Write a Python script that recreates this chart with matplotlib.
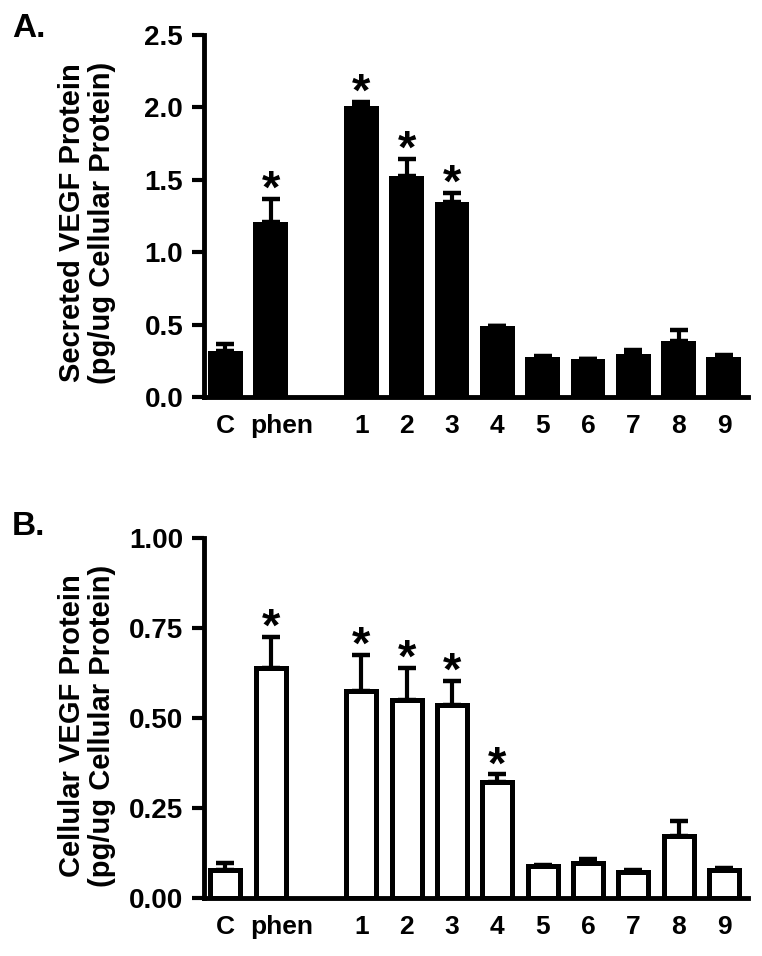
import matplotlib
matplotlib.use("Agg")
import matplotlib.pyplot as plt
from matplotlib.transforms import ScaledTranslation
import numpy as np

plt.rcParams['font.family'] = ['Liberation Sans', 'DejaVu Sans']
plt.rcParams['font.weight'] = 'bold'

# groups (gap after phen)
labels = ['C', 'phen', '1', '2', '3', '4', '5', '6', '7', '8', '9']
pos = [0, 1, 3, 4, 5, 6, 7, 8, 9, 10, 11]

# A: secreted VEGF
secreted = [0.318, 1.207, 2.013, 1.525, 1.35, 0.49, 0.279, 0.263, 0.295, 0.389, 0.274]
secreted_err = [0.05, 0.162, 0.025, 0.12, 0.06, 0.0, 0.004, 0.002, 0.032, 0.072, 0.018]
secreted_sig = [False, True, True, True, True, False, False, False, False, False, False]

# B: cellular VEGF
cellular = [0.078, 0.638, 0.575, 0.55, 0.536, 0.323, 0.088, 0.097, 0.072, 0.172, 0.078]
cellular_err = [0.02, 0.087, 0.10, 0.09, 0.068, 0.021, 0.003, 0.012, 0.005, 0.042, 0.004]
cellular_sig = [False, True, True, True, True, True, False, False, False, False, False]

fig = plt.figure(figsize=(7.62, 9.56), dpi=100)
axA = fig.add_axes([0.2677, 0.5847, 0.7139, 0.3787])
axB = fig.add_axes([0.2677, 0.0607, 0.7139, 0.3765])


def style(ax, ylim, yticks, fmt):
    ax.set_xlim(-0.47, 11.53)
    ax.set_ylim(*ylim)
    ax.set_yticks(yticks)
    ax.set_yticklabels([fmt.format(v) for v in yticks])
    ax.set_xticks(pos)
    ax.set_xticklabels(labels)
    for s in ['top', 'right']:
        ax.spines[s].set_visible(False)
    for s in ['left', 'bottom']:
        ax.spines[s].set_linewidth(3.5)
    ax.tick_params(axis='y', length=9, width=3, pad=6, labelsize=20)
    ax.tick_params(axis='x', length=0, pad=12, labelsize=19)
    # "phen" sits a bit right of its bar
    lab = ax.get_xticklabels()[1]
    lab.set_transform(lab.get_transform() + ScaledTranslation(0.11, 0, fig.dpi_scale_trans))


def draw(ax, vals, errs, sig, filled):
    n = len(vals)
    if filled:
        ax.bar(pos, vals, width=0.77, color='black', linewidth=0, zorder=2)
    else:
        ax.bar(pos, vals, width=0.66, color='white', edgecolor='black',
               linewidth=3.6, zorder=2)
    ax.errorbar(pos, vals, yerr=[np.zeros(n), errs], fmt='none', ecolor='black',
                elinewidth=3, capsize=6.5, capthick=3.2, zorder=1)
    for x, v, e, s in zip(pos, vals, errs, sig):
        if s:
            ax.annotate('*', xy=(x, v + e), xytext=(0, -3), textcoords='offset points',
                        ha='center', va='baseline', fontsize=34, fontweight='bold')


draw(axA, secreted, secreted_err, secreted_sig, True)
style(axA, (0, 2.5), [0.0, 0.5, 1.0, 1.5, 2.0, 2.5], '{:.1f}')

draw(axB, cellular, cellular_err, cellular_sig, False)
style(axB, (0, 1.0), [0.0, 0.25, 0.5, 0.75, 1.0], '{:.2f}')

fig.text(0.114, 0.7673, 'Secreted VEGF Protein\n(pg/ug Cellular Protein)', rotation=90,
         ha='center', va='center', fontsize=21, fontweight='bold', linespacing=1.1)
fig.text(0.114, 0.2406, 'Cellular VEGF Protein\n(pg/ug Cellular Protein)', rotation=90,
         ha='center', va='center', fontsize=21, fontweight='bold', linespacing=1.1)

fig.text(0.0157, 0.9613, 'A.', fontsize=24, fontweight='bold', va='baseline')
fig.text(0.0157, 0.4404, 'B.', fontsize=24, fontweight='bold', va='baseline')

fig.savefig('out.png', dpi=100)
